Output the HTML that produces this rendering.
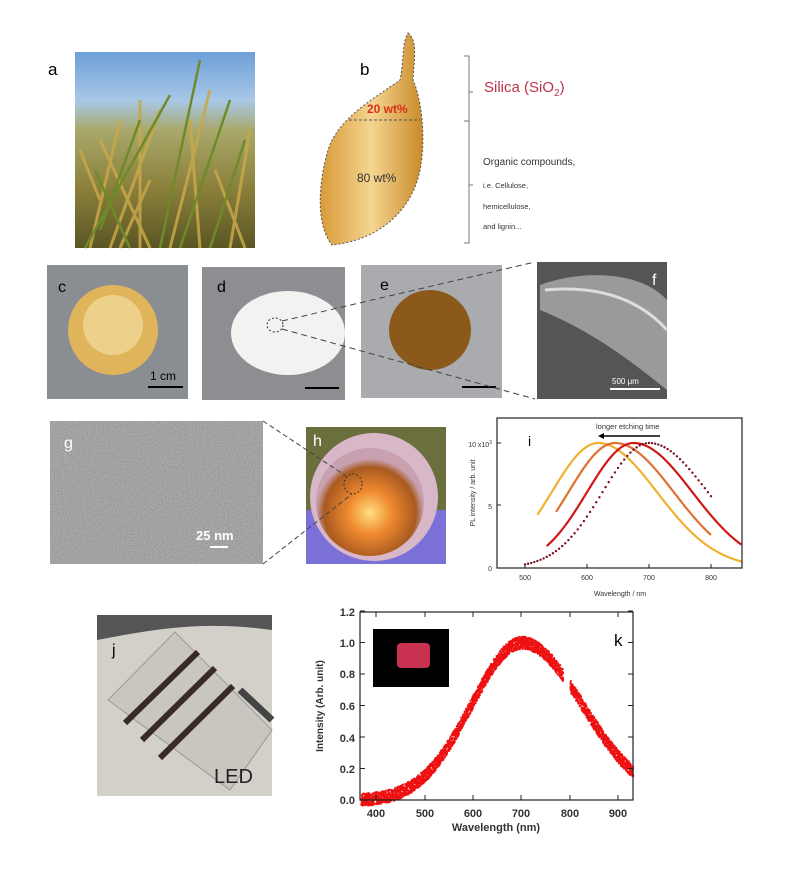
<!DOCTYPE html>
<html><head><meta charset="utf-8"><style>
html,body{margin:0;padding:0;background:#fff}
svg{display:block}
text{font-family:"Liberation Sans",sans-serif}
</style></head><body>
<svg id="s" width="800" height="880" viewBox="0 0 800 880" xmlns="http://www.w3.org/2000/svg">
<defs>
<linearGradient id="sky" x1="0" y1="0" x2="0" y2="1"><stop offset="0" stop-color="#6d9fd8"/><stop offset="0.25" stop-color="#a9c8e6"/><stop offset="0.4" stop-color="#a8a86a"/><stop offset="0.7" stop-color="#8a7f3a"/><stop offset="1" stop-color="#5a5624"/></linearGradient>
<linearGradient id="grain" x1="0" y1="0" x2="1" y2="0"><stop offset="0" stop-color="#d89a3a"/><stop offset="0.5" stop-color="#f5d590"/><stop offset="1" stop-color="#c98a2a"/></linearGradient>
<radialGradient id="bowl" cx="0.5" cy="0.6" r="0.5"><stop offset="0" stop-color="#ffe080"/><stop offset="0.4" stop-color="#f08a30"/><stop offset="0.85" stop-color="#a85a20"/><stop offset="1" stop-color="#c8a0b0"/></radialGradient>
<filter id="n" x="0" y="0" width="1" height="1"><feTurbulence type="fractalNoise" baseFrequency="0.9" numOctaves="2" seed="3"/><feColorMatrix type="saturate" values="0"/><feComponentTransfer><feFuncA type="linear" slope="0" intercept="1"/></feComponentTransfer></filter>
</defs>
<!-- a -->
<text x="48" y="75" font-size="17">a</text>
<rect x="75" y="52" width="180" height="196" fill="url(#sky)"/>
<g stroke="#c8a84a" stroke-width="3" opacity="0.85">
<path d="M90 248 L120 120 M110 248 L160 110 M140 248 L140 100 M170 248 L210 90 M200 248 L190 120 M230 248 L250 130 M100 200 L80 150 M150 248 L100 140 M120 248 L150 180 M245 248 L215 170"/>
</g>
<g stroke="#6e8a2a" stroke-width="2.5"><path d="M85 248 L170 95 M210 248 L245 140 M130 248 L95 170 M180 248 L230 100 M160 248 L200 60 M100 230 L140 120"/></g>
<!-- b -->
<text x="360" y="75" font-size="17">b</text>
<path d="M408 33 C418 40 414 60 413 80 C422 100 426 140 420 170 C412 210 380 240 332 245 C316 225 318 185 328 150 C338 118 375 98 400 80 C404 62 402 42 408 33 Z" fill="url(#grain)" stroke="#555" stroke-dasharray="2,2" stroke-width="1"/>
<line x1="349" y1="120" x2="420" y2="120" stroke="#555" stroke-dasharray="3,2"/>
<text x="367" y="113" font-size="12" font-weight="bold" fill="#d6301c">20 wt%</text>
<text x="357" y="182" font-size="12" fill="#333">80 wt%</text>
<path d="M464 56 H469 V243 H464 M469 121 H464 M469 92 H473 M469 185 H473" stroke="#777" fill="none"/>
<text x="484" y="92" font-size="15" fill="#c0344a">Silica (SiO<tspan font-size="10" dy="4">2</tspan><tspan dy="-4">)</tspan></text>
<text x="483" y="165" font-size="10" fill="#333">Organic compounds,</text>
<text x="483" y="188" font-size="7.5" fill="#333">i.e. Cellulose,</text>
<text x="483" y="209" font-size="7.5" fill="#333">hemicellulose,</text>
<text x="483" y="229" font-size="7.5" fill="#333">and lignin...</text>
<!-- c -->
<rect x="47" y="265" width="141" height="134" fill="#8a8d92"/>
<ellipse cx="113" cy="330" rx="45" ry="45" fill="#e0b45a"/>
<ellipse cx="113" cy="325" rx="30" ry="30" fill="#edd08a"/>
<text x="58" y="292" font-size="16">c</text>
<text x="150" y="380" font-size="12">1 cm</text>
<line x1="148" y1="387" x2="183" y2="387" stroke="#000" stroke-width="2"/>
<!-- d -->
<rect x="202" y="267" width="143" height="133" fill="#8c8e92"/>
<ellipse cx="288" cy="333" rx="57" ry="42" fill="#f2f2f0"/>
<ellipse cx="275" cy="325" rx="8" ry="7" fill="none" stroke="#333" stroke-dasharray="2,2"/>
<text x="217" y="292" font-size="16">d</text>
<line x1="305" y1="388" x2="339" y2="388" stroke="#000" stroke-width="2"/>
<!-- e -->
<rect x="361" y="265" width="141" height="133" fill="#a9abae"/>
<ellipse cx="430" cy="330" rx="41" ry="40" fill="#8b5a1a"/>
<text x="380" y="290" font-size="16">e</text>
<line x1="462" y1="387" x2="496" y2="387" stroke="#000" stroke-width="2"/>
<!-- f -->
<rect x="537" y="262" width="130" height="137" fill="#555"/>
<path d="M540 285 C580 270 640 270 667 300 L667 390 C630 360 590 330 540 310 Z" fill="#9a9a9a"/>
<path d="M545 290 C600 285 640 300 667 330" stroke="#ddd" stroke-width="3" fill="none"/>
<text x="652" y="285" font-size="16" fill="#fff">f</text>
<text x="612" y="384" font-size="8" fill="#fff">500 μm</text>
<line x1="610" y1="389" x2="660" y2="389" stroke="#fff" stroke-width="2"/>
<path d="M282 321 L535 262 M282 329 L535 399" stroke="#444" stroke-dasharray="6,4" fill="none"/>
<!-- g -->
<rect x="50" y="421" width="213" height="143" fill="#8f8f8f"/>
<rect x="50" y="421" width="213" height="143" filter="url(#n)" opacity="0.45"/>
<text x="64" y="448" font-size="16" fill="#fff">g</text>
<text x="196" y="540" font-size="13" font-weight="bold" fill="#fff">25 nm</text>
<line x1="210" y1="547" x2="228" y2="547" stroke="#fff" stroke-width="2"/>
<!-- h -->
<rect x="306" y="427" width="140" height="137" fill="#6b6f3e"/>
<rect x="306" y="510" width="140" height="54" fill="#7b6fd8"/>
<circle cx="374" cy="497" r="64" fill="#d8b8c8"/>
<circle cx="370" cy="502" r="54" fill="url(#bowl)"/>
<ellipse cx="353" cy="484" rx="9" ry="10" fill="none" stroke="#333" stroke-dasharray="2,2"/>
<text x="313" y="446" font-size="16" fill="#fff">h</text>
<path d="M263 421 L346 476 M263 564 L352 494" stroke="#444" stroke-dasharray="5,3" fill="none"/>
<!-- i -->
<g id="gi"></g>
<rect x="497" y="418" width="245" height="150" fill="none" stroke="#222" stroke-width="1.2"/>
<text x="528" y="446" font-size="14">i</text>
<text x="596" y="429" font-size="7.5" fill="#333">longer etching time</text>
<path d="M660 436 H600" stroke="#000" stroke-width="1.5"/><path d="M598 436 l6 -3 v6z"/>
<text x="492" y="447" font-size="7" fill="#333" text-anchor="end">10 x10<tspan font-size="5" dy="-3">3</tspan></text>
<text x="492" y="509" font-size="7" fill="#333" text-anchor="end">5</text>
<text x="492" y="571" font-size="7" fill="#333" text-anchor="end">0</text>
<text x="475" y="493" font-size="7" fill="#333" text-anchor="middle" transform="rotate(-90 475 493)">PL intensity / arb. unit</text>
<g font-size="7" fill="#333" text-anchor="middle"><text x="525" y="580">500</text><text x="587" y="580">600</text><text x="649" y="580">700</text><text x="711" y="580">800</text><text x="620" y="596">Wavelength / nm</text></g>
<!-- j -->
<rect x="97" y="615" width="175" height="181" fill="#d2d0c8"/>
<path d="M97 615 H272 V630 C200 620 150 630 97 640Z" fill="#555"/>
<path d="M108 700 L175 632 L272 730 L230 790 Z" fill="#c8c6be" stroke="#999"/>
<g stroke="#3a2a26" stroke-width="6"><line x1="125" y1="723" x2="198" y2="652"/><line x1="142" y1="740" x2="215" y2="668"/><line x1="160" y1="758" x2="233" y2="686"/></g>
<path d="M240 690 L272 720" stroke="#444" stroke-width="7"/>
<text x="112" y="655" font-size="16">j</text>
<text x="214" y="783" font-size="20" fill="#222">LED</text>
<!-- k -->
<g id="gk"></g>
<rect x="360" y="612" width="273" height="188" fill="none" stroke="#222" stroke-width="1.2"/>
<rect x="373" y="629" width="76" height="58" fill="#000"/>
<rect x="397" y="643" width="33" height="25" rx="4" fill="#c83250"/>
<text x="614" y="646" font-size="17">k</text>
<g font-size="11" font-weight="bold" fill="#333" text-anchor="end">
<text x="355" y="616">1.2</text><text x="355" y="647">1.0</text><text x="355" y="678">0.8</text><text x="355" y="710">0.6</text><text x="355" y="742">0.4</text><text x="355" y="773">0.2</text><text x="355" y="804">0.0</text></g>
<text x="323" y="706" font-size="10" font-weight="bold" fill="#333" text-anchor="middle" transform="rotate(-90 323 706)">Intensity (Arb. unit)</text>
<g font-size="11" font-weight="bold" fill="#333" text-anchor="middle"><text x="376" y="817">400</text><text x="425" y="817">500</text><text x="473" y="817">600</text><text x="521" y="817">700</text><text x="570" y="817">800</text><text x="618" y="817">900</text><text x="496" y="831">Wavelength (nm)</text></g>
</svg>
<script>
var NS="http://www.w3.org/2000/svg";
function el(p,t,a){var e=document.createElementNS(NS,t);for(var k in a)e.setAttribute(k,a[k]);p.appendChild(e);return e;}
var s=document.getElementById('s');
[376,425,473,521,570,618].forEach(function(v){el(s,'line',{x1:v,x2:v,y1:612,y2:617,stroke:'#222'});el(s,'line',{x1:v,x2:v,y1:800,y2:795,stroke:'#222'});});
for(var i=0;i<=6;i++){var y=800-i*31.5;el(s,'line',{x1:360,x2:365,y1:y,y2:y,stroke:'#222'});el(s,'line',{x1:633,x2:628,y1:y,y2:y,stroke:'#222'});}
var gk=document.getElementById('gk');var seed=7;function r(){seed=(seed*9301+49297)%233280;return seed/233280;}
for(var w=367;w<=930;w+=0.5){var v=Math.exp(-Math.pow((w-700)/(w<700?105:125),2)/2);if(w>785&&w<800)continue;var x=357+(w-360)*0.483;for(var j=0;j<3;j++){var yy=800-(v+(r()-0.5)*0.08)*158;el(gk,'rect',{x:x,y:yy,width:1.8,height:1.8,fill:'#ee1111'});}}
var gi=document.getElementById('gi');
var cs=[[618,520,850,'#f0b030',1],[645,550,800,'#e07030',1],[675,535,850,'#d01818',1],[700,500,800,'#7a1020',0]];
cs.forEach(function(c){var pts=[];for(var w=c[1];w<=c[2];w+=c[4]?2:5){var sd=w<c[0]?75:95;var v=Math.exp(-Math.pow((w-c[0])/sd,2)/2);var x=525+(w-500)*0.62,y=568-v*125;if(c[4])pts.push(x+','+y);else el(gi,'circle',{cx:x,cy:y,r:1.2,fill:c[3]});}
if(c[4])el(gi,'polyline',{points:pts.join(' '),fill:'none',stroke:c[3],'stroke-width':2.2});});
[525,587,649,711].forEach(function(x){el(s,'line',{x1:x,x2:x,y1:568,y2:564,stroke:'#222'});});
[443,505,568].forEach(function(y){el(s,'line',{x1:497,x2:501,y1:y,y2:y,stroke:'#222'});});
</script>
</body></html>
